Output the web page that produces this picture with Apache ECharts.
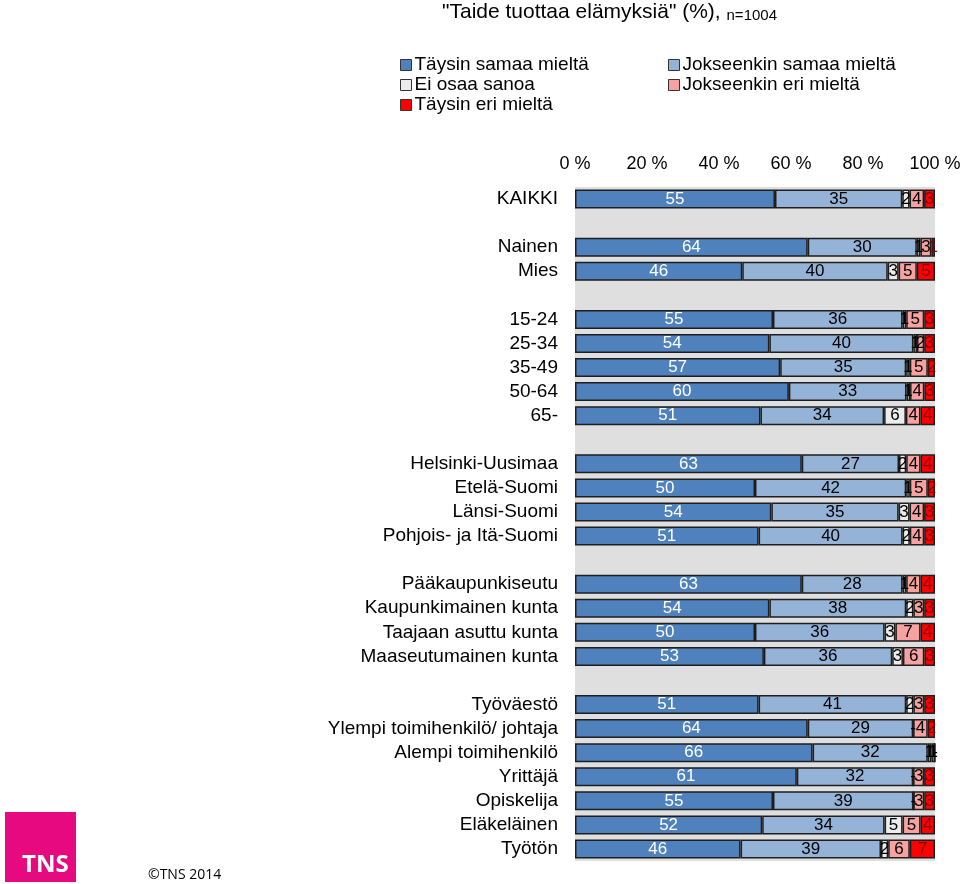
<!DOCTYPE html>
<html>
<head>
<meta charset="utf-8">
<script src="https://cdn.jsdelivr.net/npm/echarts@6/dist/echarts.min.js"></script>
<style>
html,body{margin:0;padding:0;background:#fff;}
#chart{width:960px;height:884px;}
</style>
</head>
<body>
<div id="chart"></div>
<script>
// Categories ('' = blank separator rows)
const categories = ['KAIKKI','', 'Nainen','Mies','', '15-24','25-34','35-49','50-64','65-','',
  'Helsinki-Uusimaa','Etelä-Suomi','Länsi-Suomi','Pohjois- ja Itä-Suomi','',
  'Pääkaupunkiseutu','Kaupunkimainen kunta','Taajaan asuttu kunta','Maaseutumainen kunta','',
  'Työväestö','Ylempi toimihenkilö/ johtaja','Alempi toimihenkilö','Yrittäjä','Opiskelija','Eläkeläinen','Työtön'];

const seriesNames = ['Täysin samaa mieltä','Jokseenkin samaa mieltä','Ei osaa sanoa','Jokseenkin eri mieltä','Täysin eri mieltä'];

const taysinSamaa     = [55,null,64,46,null,55,54,57,60,51,null,63,50,54,51,null,63,54,50,53,null,51,64,66,61,55,52,46];
const jokseenkinSamaa = [35,null,30,40,null,36,40,35,33,34,null,27,42,35,40,null,28,38,36,36,null,41,29,32,32,39,34,39];
const eiOsaa          = [2,null,1,3,null,1,1,1,1,6,null,2,1,3,2,null,1,2,3,3,null,2,0,1,0,0,5,2];
const jokseenkinEri   = [4,null,3,5,null,5,2,5,4,4,null,4,5,4,4,null,4,3,7,6,null,3,4,1,3,3,5,6];
const taysinEri       = [3,null,1,5,null,3,3,2,3,4,null,4,2,3,3,null,4,3,4,3,null,3,2,0,3,3,4,7];

const axisTicks = [0,20,40,60,80,100];

const raw = [taysinSamaa, jokseenkinSamaa, eiOsaa, jokseenkinEri, taysinEri];
const colors = ['#4f81bd','#95b3d7','#ececec','#f7a1a1','#ff0000'];
const labelColors = ['#ffffff','#000000','#000000','#000000','#800000'];

// 100% stacked: normalise each row by its total, keep raw value for the label
const totals = categories.map((c,i)=> raw.reduce((s,arr)=> s + (arr[i]==null?0:arr[i]),0));
const norm = raw.map(arr => arr.map((v,i)=> v==null ? null : v/totals[i]*100));

const font = 'Liberation Sans, Arial, sans-serif';

const series = raw.map((arr,k)=>({
  name: seriesNames[k],
  type: 'bar',
  stack: 'all',
  barWidth: 19,
  data: arr.map((v,i)=> v==null ? null : {value: norm[k][i], raw: v}),
  itemStyle: {color: colors[k], borderColor: '#1e1e1e', borderWidth: 1.5},
  label: {
    show: true,
    position: 'inside',
    fontFamily: font,
    fontSize: 17,
    color: labelColors[k],
    formatter: p => (p.data && p.data.raw) ? String(p.data.raw) : ''
  },
  emphasis: {disabled: true}
}));

// zero values: stack position on the value axis, shown as '-'
const zeroPoints = [];
raw.forEach((arr,k)=> arr.forEach((v,i)=>{
  if (v === 0) {
    let cum = 0;
    for (let j=0;j<k;j++) cum += norm[j][i] || 0;
    zeroPoints.push([cum, categories[i]]);
  }
}));

const staticGraphics = [
  {type: 'rect', left: 5, top: 812, shape: {width: 71, height: 70}, style: {fill: '#e6097f'}},
  {type: 'text', left: 22, top: 853, style: {text: 'TNS', fill: '#fff', font: 'bold 24px "Open Sans", sans-serif'}},
  {type: 'text', left: 148, top: 868, style: {text: '©TNS 2014', fill: '#000', font: '14px "Open Sans", sans-serif'}}
];

const chart = echarts.init(document.getElementById('chart'), null, {renderer:'canvas'});
const legendCommon = {
  orient: 'vertical', top: 50, itemWidth: 11, itemHeight: 11, itemGap: 0, icon: 'rect', selectedMode: false,
  itemStyle: {borderColor: '#333', borderWidth: 1},
  textStyle: {fontFamily: font, fontSize: 19, lineHeight: 20, color: '#000', padding: [0,0,0,-2]}
};
chart.setOption({
  animation: false,
  textStyle: {fontFamily: font},
  title: {
    text: '"Taide tuottaa elämyksiä" (%), {n|n=1004}',
    left: 437, top: -3,
    textStyle: {fontFamily: font, fontSize: 21, fontWeight: 'normal', color: '#000',
      rich: {n: {fontFamily: font, fontSize: 15, color: '#000', verticalAlign: 'bottom', padding:[6,0,0,0]}}}
  },
  legend: [
    Object.assign({data: [seriesNames[0], seriesNames[2], seriesNames[4]], left: 395}, legendCommon),
    Object.assign({data: [seriesNames[1], seriesNames[3]], left: 663}, legendCommon)
  ],
  grid: {left: 575, right: 25, top: 187, height: 674, show: true, backgroundColor: '#dfdfdf', borderWidth: 0,
         containLabel: false, outerBoundsMode: 'none'},
  xAxis: {
    type: 'value', position: 'top', min: axisTicks[0], max: axisTicks[axisTicks.length-1], interval: 20,
    axisLine: {show: false}, axisTick: {show: false}, splitLine: {show: false},
    axisLabel: {formatter: '{value} %', fontFamily: font, fontSize: 18, color: '#000', margin: 14}
  },
  yAxis: {
    type: 'category', inverse: true, data: categories,
    axisLine: {show: false}, axisTick: {show: false}, splitLine: {show: false},
    axisLabel: {fontFamily: font, fontSize: 19, color: '#000', margin: 17, interval: 0}
  },
  graphic: staticGraphics,
  series: series
});

// '-' markers, positioned through the chart's own axes
const zeroGraphics = zeroPoints.map(pt => {
  const px = chart.convertToPixel({gridIndex: 0}, pt);
  return {type: 'text', x: px[0], y: px[1], z: 100,
    style: {text: '-', fill: '#000', font: '17px Liberation Sans, Arial, sans-serif', align: 'center', verticalAlign: 'middle'}};
});
chart.setOption({graphic: staticGraphics.concat(zeroGraphics)}, {replaceMerge: ['graphic']});
</script>
</body>
</html>
